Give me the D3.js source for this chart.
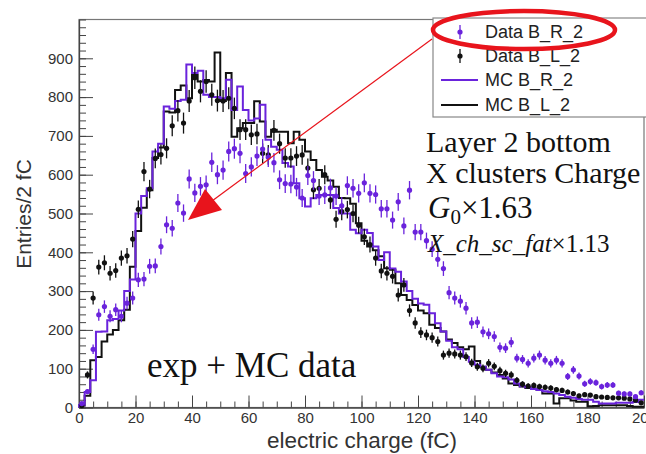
<!DOCTYPE html>
<html>
<head>
<meta charset="utf-8">
<script src="https://cdn.jsdelivr.net/npm/d3@7"></script>
<style>
  body { margin: 0; background: #fff; }
  svg { display: block; }
</style>
</head>
<body>
<div id="chart"></div>
<script>
// bins are 2 fC wide, 0 -> 200 fC
const binWidth = 2;
const binLow = d3.range(0, 200, binWidth);

// Data B_R_2 (purple points)
const dataR = [10,41,150,239,260,235,252,235,269,282,
  329,331,364,365,415,471,462,527,501,589,
  553,570,574,632,600,612,660,667,655,603,
  620,648,666,645,631,587,577,576,568,540,
  598,585,545,548,566,545,520,572,565,552,
  579,552,549,512,512,483,530,468,560,452,
  452,430,408,382,358,296,282,274,256,218,
  220,195,190,183,155,153,168,127,124,114,
  127,135,122,114,122,114,80,97,81,61,
  67,64,54,58,58,37,35,35,28,38];

// Data B_L_2 (black points)
const dataL = [5,84,282,362,373,346,353,385,391,434,
  511,608,563,642,652,668,726,765,733,790,
  850,815,840,806,791,790,797,771,716,716,
  703,705,655,651,714,680,643,643,648,651,
  617,561,565,600,535,485,505,510,500,470,
  440,420,385,352,346,338,290,316,250,218,
  193,187,180,170,135,140,138,135,131,115,
  105,101,114,106,95,88,84,70,60,55,
  57,54,52,50,46,44,40,36,30,33,
  32,28,27,26,25,25,24,22,19,12];

// MC B_R_2 (purple histogram)
const mcR = [6,40,70,195,196,225,228,250,300,330,
  500,545,565,660,680,776,770,790,793,884,
  862,868,806,800,800,797,845,767,827,767,
  740,745,780,690,672,664,630,621,578,539,
  518,539,548,548,548,514,500,500,458,449,
  458,450,415,380,400,358,350,325,300,280,
  268,265,243,217,196,172,155,150,130,118,
  110,105,97,88,80,78,72,62,55,52,
  48,45,42,40,36,32,28,25,22,20,
  20,15,10,10,10,12,12,12,14,20];

// MC B_L_2 (black histogram)
const mcL = [5,30,122,130,170,188,200,225,252,363,
  455,515,560,643,670,763,760,818,830,797,
  857,840,844,840,915,790,862,698,720,733,
  733,789,737,698,716,711,711,681,711,690,
  660,638,612,595,585,569,540,539,525,475,
  430,415,405,390,359,355,320,290,277,264,
  250,243,213,205,196,175,166,155,150,157,
  120,105,97,90,84,75,62,58,54,50,
  49,45,36,36,10,24,24,18,15,15,
  3,4,6,6,6,6,6,4,2,2];

const xTicks = [0, 20, 40, 60, 80, 100, 120, 140, 160, 180, 200];
const yTicks = [0, 100, 200, 300, 400, 500, 600, 700, 800, 900];
const legendLabels = ['Data B_R_2', 'Data B_L_2', 'MC B_R_2', 'MC B_L_2'];

const W = 646, H = 454;
const violet = '#6a23dc';
const dark = '#111';
const red = '#e8141c';

const svg = d3.select('#chart').append('svg')
    .attr('width', W)
    .attr('height', H);

const x = d3.scaleLinear().domain([0, 200]).range([79, 644]);
const y = d3.scaleLinear().domain([0, 1000]).range([407.5, 19.5]);

// frame
svg.append('rect')
    .attr('x', x(0)).attr('y', y(1000))
    .attr('width', x(200) - x(0)).attr('height', y(0) - y(1000))
    .attr('fill', 'none')
    .attr('stroke', '#777')
    .attr('stroke-width', 1.2);

// y axis, ticks point inward like root
const yMinor = d3.range(0, 1001, 20);
svg.append('g')
    .attr('transform', `translate(${x(0)},0)`)
    .call(d3.axisLeft(y).tickValues(yMinor).tickFormat('').tickSizeInner(-7).tickSizeOuter(0))
    .call(g => g.select('.domain').remove())
    .selectAll('line').attr('stroke', '#444');
const yAx = svg.append('g')
    .attr('transform', `translate(${x(0)},0)`)
    .call(d3.axisLeft(y).tickValues(yTicks).tickSizeInner(-14).tickSizeOuter(0).tickPadding(6));
yAx.select('.domain').attr('stroke', '#444').attr('stroke-width', 1.3);
yAx.selectAll('line').attr('stroke', '#444');
yAx.selectAll('text')
    .style('font-family', 'Liberation Sans, Arial, sans-serif')
    .style('font-size', '15px')
    .attr('fill', '#333');

// x axis
const xMinor = d3.range(0, 201, 5);
svg.append('g')
    .attr('transform', `translate(0,${y(0)})`)
    .call(d3.axisBottom(x).tickValues(xMinor).tickFormat('').tickSizeInner(-6).tickSizeOuter(0))
    .call(g => g.select('.domain').remove())
    .selectAll('line').attr('stroke', '#444');
const xAx = svg.append('g')
    .attr('transform', `translate(0,${y(0)})`)
    .call(d3.axisBottom(x).tickValues(xTicks).tickSizeInner(-12).tickSizeOuter(0).tickPadding(5));
xAx.select('.domain').attr('stroke', '#444').attr('stroke-width', 1.3);
xAx.selectAll('line').attr('stroke', '#444');
xAx.selectAll('text')
    .style('font-family', 'Liberation Sans, Arial, sans-serif')
    .style('font-size', '15px')
    .attr('fill', '#333');

// axis titles
svg.append('text')
    .attr('transform', `translate(31,214) rotate(-90)`)
    .attr('text-anchor', 'middle')
    .style('font-family', 'Liberation Sans, Arial, sans-serif')
    .style('font-size', '21px')
    .attr('fill', '#333')
    .text('Entries/2 fC');
svg.append('text')
    .attr('x', 362).attr('y', 448)
    .attr('text-anchor', 'middle')
    .style('font-family', 'Liberation Sans, Arial, sans-serif')
    .style('font-size', '22.5px')
    .attr('fill', '#333')
    .text('electric charge (fC)');

// step histograms
const stepLine = d3.line()
    .x(d => x(d[0]))
    .y(d => y(d[1]))
    .curve(d3.curveStepAfter);

function histPoints(vals) {
  const pts = [[0, 0]];
  binLow.forEach((b, i) => pts.push([b, vals[i]]));
  pts.push([200, vals[vals.length - 1]]);
  return pts;
}

const plot = svg.append('g');

plot.append('path')
    .attr('d', stepLine(histPoints(mcL)))
    .attr('fill', 'none')
    .attr('stroke', dark)
    .attr('stroke-width', 2);

plot.append('path')
    .attr('d', stepLine(histPoints(mcR)))
    .attr('fill', 'none')
    .attr('stroke', violet)
    .attr('stroke-width', 2);

// data points with poisson error bars
function drawPoints(vals, color, cls) {
  const g = plot.append('g').attr('class', cls);
  const pts = g.selectAll('g')
      .data(vals)
      .enter()
      .append('g')
      .attr('transform', (d, i) => `translate(${x(binLow[i] + binWidth / 2)},0)`);
  pts.append('line')
      .attr('y1', d => y(d + Math.sqrt(d)))
      .attr('y2', d => y(Math.max(0, d - Math.sqrt(d))))
      .attr('stroke', color)
      .attr('stroke-width', 1.3);
  pts.append('circle')
      .attr('cy', d => y(d))
      .attr('r', 2.6)
      .attr('fill', color);
}
drawPoints(dataL, dark, 'dataL');
drawPoints(dataR, violet, 'dataR');

// legend
const leg = svg.append('g');
leg.append('rect')
    .attr('x', 433).attr('y', 18)
    .attr('width', 230).attr('height', 99)
    .attr('fill', '#fff')
    .attr('stroke', '#888')
    .attr('stroke-width', 1.2);

const legY = [32, 56, 80, 105];
legendLabels.forEach((lab, i) => {
  const ly = legY[i];
  if (i < 2) {
    const c = i === 0 ? violet : dark;
    leg.append('line')
        .attr('x1', 460).attr('x2', 460)
        .attr('y1', ly - 7).attr('y2', ly + 7)
        .attr('stroke', c).attr('stroke-width', 1.3);
    leg.append('circle')
        .attr('cx', 460).attr('cy', ly)
        .attr('r', 2.6).attr('fill', c);
  } else {
    leg.append('line')
        .attr('x1', 441).attr('x2', 478)
        .attr('y1', ly).attr('y2', ly)
        .attr('stroke', i === 2 ? violet : dark)
        .attr('stroke-width', 2);
  }
  leg.append('text')
      .attr('x', 485).attr('y', ly + 6)
      .style('font-family', 'Liberation Sans, Arial, sans-serif')
      .style('font-size', '18px')
      .attr('fill', '#222')
      .text(lab);
});

// red annotation
svg.append('ellipse')
    .attr('cx', 524).attr('cy', 30)
    .attr('rx', 91).attr('ry', 19)
    .attr('fill', 'none')
    .attr('stroke', red)
    .attr('stroke-width', 4.5);
svg.append('line')
    .attr('x1', 432).attr('y1', 39)
    .attr('x2', 212).attr('y2', 201)
    .attr('stroke', red)
    .attr('stroke-width', 1.2);
svg.append('path')
    .attr('d', 'M188,220 L205,189 L222,210 Z')
    .attr('fill', red);

// text notes
const serif = 'Liberation Serif, Times New Roman, serif';
const notes = svg.append('g')
    .style('font-family', serif)
    .attr('fill', '#111');
notes.append('text').attr('x', 426).attr('y', 152).style('font-size', '30px').text('Layer 2 bottom');
notes.append('text').attr('x', 426).attr('y', 183).style('font-size', '30px').text('X clusters Charge');
const g0 = notes.append('text').attr('x', 428).attr('y', 218).style('font-size', '31px');
g0.append('tspan').style('font-style', 'italic').text('G');
g0.append('tspan').attr('dy', 6).style('font-size', '21px').text('0');
g0.append('tspan').attr('dy', -6).text('×1.63');
const xch = notes.append('text').attr('x', 428).attr('y', 252).style('font-size', '25px');
xch.append('tspan').style('font-style', 'italic').text('X_ch_sc_fat');
xch.append('tspan').text('×1.13');

notes.append('text').attr('x', 147).attr('y', 377).style('font-size', '35px').text('exp + MC data');
</script>
</body>
</html>
